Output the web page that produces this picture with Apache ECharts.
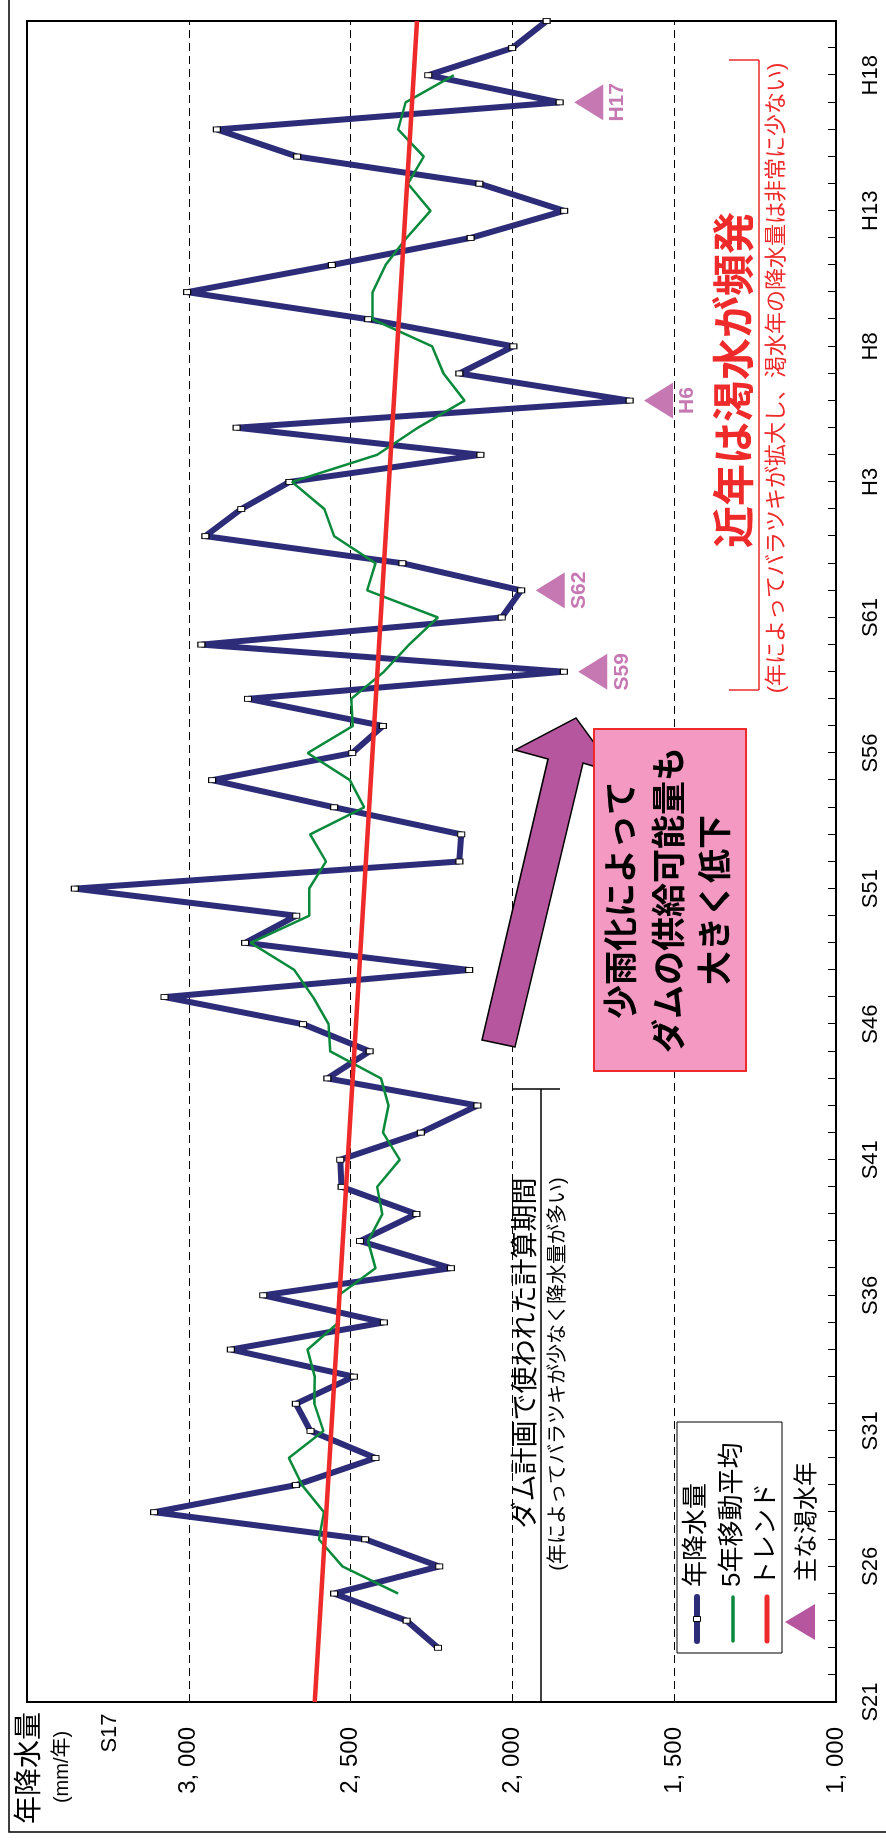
<!DOCTYPE html>
<html>
<head>
<meta charset="utf-8" />
<title>年降水量の推移</title>
<script src="https://cdn.jsdelivr.net/npm/echarts@6/dist/echarts.min.js"></script>
<style>
  html, body { margin: 0; padding: 0; background: #fff; overflow: hidden; }
  /* chart is drawn landscape, then turned a quarter turn to the left */
  #echart {
    position: absolute; left: 0; top: 0;
    width: 1840px; height: 886px;
    transform-origin: 0 0;
    transform: translate(0, 1840px) rotate(-90deg);
  }
</style>
</head>
<body>
<div id="echart"></div>
<script>
  // 年 (S21 = 1946 ... H20 = 2008)
  var years = ['S21','S22','S23','S24','S25','S26','S27','S28','S29','S30',
               'S31','S32','S33','S34','S35','S36','S37','S38','S39','S40',
               'S41','S42','S43','S44','S45','S46','S47','S48','S49','S50',
               'S51','S52','S53','S54','S55','S56','S57','S58','S59','S60',
               'S61','S62','S63','H1','H2','H3','H4','H5','H6','H7',
               'H8','H9','H10','H11','H12','H13','H14','H15','H16','H17',
               'H18','H19','H20'];
  // 年降水量 (mm/年)
  var rain = [null, null, 2230, 2327, 2551, 2226, 2455, 3107, 2669, 2423,
              2624, 2669, 2490, 2870, 2397, 2770, 2190, 2471, 2297, 2528,
              2532, 2283, 2108, 2572, 2441, 2647, 3075, 2134, 2826, 2668,
              3352, 2164, 2158, 2551, 2928, 2495, 2400, 2817, 1841, 2961,
              2033, 1973, 2340, 2949, 2838, 2689, 2099, 2852, 1638, 2164,
              1997, 2446, 3005, 2558, 2129, 1840, 2102, 2665, 2913, 1854,
              2260, 2001, 1894];
  // 5年移動平均
  var avg5 = [null, null, null, null, 2353, 2525, 2598, 2582, 2650, 2691,
              2584, 2612, 2611, 2633, 2537, 2537, 2423, 2446, 2402, 2418,
              2348, 2400, 2383, 2406, 2563, 2568, 2616, 2674, 2809, 2628,
              2628, 2576, 2625, 2458, 2502, 2633, 2493, 2498, 2397, 2319,
              2230, 2449, 2423, 2551, 2581, 2681, 2418, 2292, 2148, 2213,
              2248, 2432, 2432, 2392, 2327, 2253, 2323, 2274, 2353, 2330,
              2181, null, null];
  // トレンド (両端)
  var trendYears = ['S21', 'H20'];
  var trendValues = [2611, 2295];
  // 主な渇水年
  var droughtYears = ['S59', 'S62', 'H6', 'H17'];
  var droughtValues = [1841, 1973, 1638, 1854];
  // 縦軸目盛
  var valueTicks = [1000, 1500, 2000, 2500, 3000];
  var valueTickLabels = ['1, 000', '1, 500', '2, 000', '2, 500', '3, 000'];

  var FONT = "'Liberation Sans', 'Noto Sans CJK JP', sans-serif";
  var NAVY = '#2d2c78';
  var GREEN = '#0b8a3c';
  var RED = '#ee2a2a';
  var PURPLE = '#b6569f';

  function txt(x, y, s, size, color, weight, align) {
    return {
      type: 'text', x: x, y: y, z: 100,
      style: {
        text: s, fill: color || '#000', fontSize: size, fontFamily: FONT,
        fontWeight: weight || 'normal', align: align || 'center', verticalAlign: 'middle'
      }
    };
  }
  function seg(x1, y1, x2, y2, color, width, cap) {
    return {
      type: 'line', z: 100,
      shape: { x1: x1, y1: y1, x2: x2, y2: y2 },
      style: { stroke: color || '#000', lineWidth: width || 1.5, lineCap: cap || 'butt' }
    };
  }

  var myChart = echarts.init(document.getElementById('echart'));

  var option = {
    animation: false,
    backgroundColor: '#fff',
    textStyle: { fontFamily: FONT },
    grid: {
      left: 138, right: 21, top: 27, bottom: 50,
      show: true, borderColor: '#000', borderWidth: 2
    },
    xAxis: {
      type: 'category',
      data: years,
      boundaryGap: false,
      axisLine: { lineStyle: { color: '#000', width: 2 } },
      axisTick: { inside: true, length: 8, interval: 0, lineStyle: { color: '#000' } },
      axisLabel: { interval: 4, fontSize: 22, margin: 24, color: '#000' },
      splitLine: { show: false }
    },
    yAxis: {
      type: 'value',
      min: 1000, max: 3500, interval: 500,
      axisLine: { show: true, lineStyle: { color: '#000', width: 2 } },
      axisTick: { show: true, inside: true, length: 8, lineStyle: { color: '#000' } },
      axisLabel: {
        fontSize: 24, margin: 25, color: '#000',
        formatter: function (v) {
          var i = valueTicks.indexOf(v);
          return i < 0 ? '' : valueTickLabels[i];
        }
      },
      splitLine: { lineStyle: { color: '#000', width: 1, type: [8, 5] } }
    },
    series: [
      {
        name: '年降水量',
        type: 'line',
        data: rain,
        z: 2,
        symbol: 'rect',
        symbolSize: [5, 7],
        showAllSymbol: true,
        lineStyle: { color: NAVY, width: 6 },
        itemStyle: { color: '#fff', borderColor: '#000', borderWidth: 1 }
      },
      {
        name: '5年移動平均',
        type: 'line',
        data: avg5,
        z: 3,
        symbol: 'none',
        lineStyle: { color: GREEN, width: 2.5 },
        itemStyle: { color: GREEN }
      },
      {
        name: 'トレンド',
        type: 'line',
        data: trendYears.map(function (c, i) { return [c, trendValues[i]]; }),
        z: 4,
        symbol: 'none',
        lineStyle: { color: RED, width: 4.5 },
        itemStyle: { color: RED }
      },
      {
        name: '主な渇水年',
        type: 'scatter',
        data: droughtYears.map(function (c, i) { return [c, droughtValues[i]]; }),
        z: 5,
        symbol: 'triangle',
        symbolSize: [36, 29],
        symbolOffset: [0, 29],
        itemStyle: { color: PURPLE },
        label: {
          show: true, position: 'bottom', distance: 4,
          formatter: function (p) { return droughtYears[p.dataIndex]; },
          color: PURPLE, fontSize: 21, fontWeight: 'bold', fontFamily: FONT
        }
      }
    ],
    graphic: [
      // 外枠
      { type: 'rect', z: 0, shape: { x: 8, y: 9, width: 1850, height: 890 },
        style: { fill: 'none', stroke: '#000', lineWidth: 1.5 } },
      // 軸タイトル
      txt(72, 30, '年降水量', 28),
      txt(73, 62, '(mm/年)', 20),
      txt(107, 110, 'S17', 22),
      // 凡例
      { type: 'rect', z: 90, shape: { x: 187, y: 677, width: 231, height: 105 },
        style: { fill: '#fff', stroke: '#000', lineWidth: 1 } },
      seg(199, 697, 243, 697, NAVY, 6, 'round'),
      { type: 'rect', z: 101, shape: { x: 218.5, y: 693.5, width: 5, height: 7 },
        style: { fill: '#fff', stroke: '#000', lineWidth: 1 } },
      seg(199, 733, 243, 733, GREEN, 3.5, 'round'),
      seg(199, 767, 243, 767, RED, 5, 'round'),
      txt(253, 697, '年降水量', 26, '#000', 'normal', 'left'),
      txt(253, 733, '5年移動平均', 26, '#000', 'normal', 'left'),
      txt(253, 767, 'トレンド', 26, '#000', 'normal', 'left'),
      { type: 'polygon', z: 100, shape: { points: [[218, 785], [236, 815], [200, 815]] },
        style: { fill: PURPLE } },
      txt(258, 807, '主な渇水年', 24, '#000', 'normal', 'left'),
      // ダム計画期間
      txt(487, 527, 'ダム計画で使われた計算期間', 27),
      txt(466, 558, '(年によってバラツキが少なく降水量が多い)', 20),
      seg(138, 541, 751, 541),
      seg(751, 513, 751, 560),
      // 矢印
      { type: 'polygon', z: 100,
        shape: { points: [[800, 482], [1081, 548], [1090, 515], [1122, 576],
                          [1067, 616], [1077, 583], [793, 515]] },
        style: { fill: PURPLE, stroke: '#000', lineWidth: 1.5 } },
      // ピンクの囲み
      { type: 'rect', z: 100, shape: { x: 769, y: 594, width: 342, height: 152 },
        style: { fill: '#f49ac2', stroke: RED, lineWidth: 2 } },
      txt(940, 624, '少雨化によって', 34, '#000', 'bold'),
      txt(940, 672, 'ダムの供給可能量も', 34, '#000', 'bold'),
      txt(940, 718, '大きく低下', 34, '#000', 'bold'),
      // 近年は渇水が頻発
      txt(1460, 737, '近年は渇水が頻発', 42, RED, 'bold'),
      txt(1462, 777, '(年によってバラツキが拡大し、渇水年の降水量は非常に少ない)', 22, RED),
      seg(1150, 759, 1780, 759, RED),
      seg(1150, 729, 1150, 759, RED),
      seg(1780, 729, 1780, 759, RED)
    ]
  };

  myChart.setOption(option);
</script>
</body>
</html>
